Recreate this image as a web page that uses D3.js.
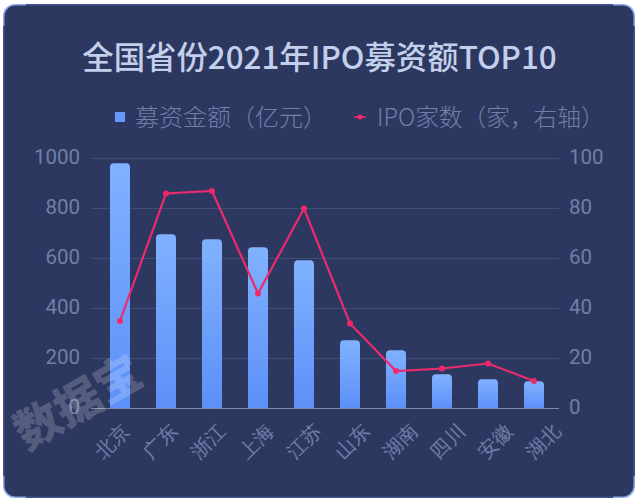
<!DOCTYPE html>
<html lang="zh">
<head>
    <meta charset="UTF-8">
    <title>全国省份2021年IPO募资额TOP10</title>
    <script src="https://d3js.org/d3.v7.min.js"></script>
    <style>
        html, body { margin: 0; padding: 0; background: #fff; overflow: hidden; }
        svg { display: block; font-family: "Noto Sans CJK SC", "Noto Sans", sans-serif; }
    </style>
</head>
<body>
    <svg width="638" height="500"></svg>
    <script>
        const provinces = ["北京", "广东", "浙江", "上海", "江苏", "山东", "湖南", "四川", "安徽", "湖北"];
        const amounts = [981, 697, 677, 645, 593, 273, 233, 137, 117, 109];
        const ipoCounts = [35, 86, 87, 46, 80, 34, 15, 16, 18, 11];
        const leftTicks = [0, 200, 400, 600, 800, 1000];
        const rightTicks = [0, 20, 40, 60, 80, 100];

        const svg = d3.select("svg");

        const defs = svg.append("defs");
        const grad = defs.append("linearGradient")
            .attr("id", "barFill").attr("x1", 0).attr("y1", 0).attr("x2", 0).attr("y2", 1);
        grad.append("stop").attr("offset", "0%").attr("stop-color", "#80b1ff");
        grad.append("stop").attr("offset", "100%").attr("stop-color", "#5c90f8");

        // panel
        svg.append("rect").attr("x", 3).attr("y", 4).attr("width", 632).attr("height", 494)
            .attr("rx", 12).attr("fill", "#8fa8e6");
        svg.append("rect").attr("x", 26).attr("y", 4).attr("width", 587).attr("height", 494)
            .attr("fill", "#3f5291");
        svg.append("rect").attr("x", 3).attr("y", 26).attr("width", 632).attr("height", 450)
            .attr("fill", "#3f5291");
        svg.append("rect").attr("x", 4.5).attr("y", 5.5).attr("width", 629).attr("height", 491)
            .attr("rx", 11).attr("fill", "#2d3861");

        const x = d3.scaleBand().domain(provinces).range([97, 557]).paddingInner(0.565).paddingOuter(0.2825);
        // the rotated labels are spaced a little wider than the bars in the picture
        const xLabels = d3.scalePoint().domain(provinces).range([120, 551]);
        const y = d3.scaleLinear().domain([0, 1000]).range([408.5, 158.5]);
        const y2 = d3.scaleLinear().domain([0, 100]).range([408.5, 158.5]);
        const cx = d => x(d) + x.bandwidth() / 2;

        // title
        svg.append("text").attr("x", 319.5).attr("y", 69).attr("text-anchor", "middle")
            .attr("font-size", 31.4).attr("font-weight", 500).attr("fill", "#c3d0eb")
            .text("全国省份2021年IPO募资额TOP10");

        // legend
        svg.append("rect").attr("x", 115).attr("y", 112).attr("width", 10).attr("height", 10).attr("fill", "#6498fb");
        svg.append("text").attr("x", 135).attr("y", 126).attr("font-size", 24).attr("font-weight", 300).attr("fill", "#727fa8")
            .text("募资金额（亿元）");
        svg.append("line").attr("x1", 354).attr("x2", 366).attr("y1", 117).attr("y2", 117)
            .attr("stroke", "#ef2a6b").attr("stroke-width", 1.5);
        svg.append("circle").attr("cx", 360).attr("cy", 117).attr("r", 2.5).attr("fill", "#ef2a6b");
        svg.append("text").attr("x", 377).attr("y", 126).attr("font-size", 23.7).attr("font-weight", 300).attr("fill", "#727fa8")
            .text("IPO家数（家，右轴）");

        // gridlines
        svg.append("g").selectAll("line").data(leftTicks.slice(1)).enter().append("line")
            .attr("x1", 91).attr("x2", 559)
            .attr("y1", d => y(d)).attr("y2", d => y(d))
            .attr("stroke", "#414d78").attr("stroke-width", 1);

        // bars
        const r = 4;
        svg.append("g").selectAll("path").data(provinces).enter().append("path")
            .attr("fill", "url(#barFill)")
            .attr("d", (d, i) => {
                const x0 = x(d), w = x.bandwidth(), top = y(amounts[i]), base = y(0);
                return `M${x0},${base}V${top + r}Q${x0},${top} ${x0 + r},${top}H${x0 + w - r}Q${x0 + w},${top} ${x0 + w},${top + r}V${base}Z`;
            });

        // baseline
        svg.append("line").attr("x1", 91).attr("x2", 559).attr("y1", y(0)).attr("y2", y(0))
            .attr("stroke", "#7d88ac").attr("stroke-width", 1);

        // axes
        const leftAxis = svg.append("g").attr("transform", "translate(80,0)")
            .call(d3.axisLeft(y).tickValues(leftTicks).tickFormat(d3.format("d")).tickSize(0).tickPadding(0));
        const rightAxis = svg.append("g").attr("transform", "translate(569,0)")
            .call(d3.axisRight(y2).tickValues(rightTicks).tickSize(0).tickPadding(0));
        [leftAxis, rightAxis].forEach(a => {
            a.select(".domain").remove();
            a.selectAll("text").attr("font-size", 20.5).attr("fill", "#727fa8").attr("dy", "0.24em")
                .attr("font-family", "Roboto, 'Noto Sans', sans-serif");
        });

        const bottomAxis = svg.append("g").attr("transform", "translate(0,408.5)")
            .call(d3.axisBottom(xLabels).tickSize(0).tickPadding(0));
        bottomAxis.select(".domain").remove();
        bottomAxis.selectAll("text")
            .attr("font-size", 19.5).attr("font-weight", 300).attr("fill", "#727fa8")
            .attr("text-anchor", "end").attr("dy", null).attr("y", 0)
            .attr("transform", "translate(11,23) rotate(-45)");

        // line series
        const line = d3.line().x(d => cx(d)).y((d, i) => y2(ipoCounts[i]));
        svg.append("path").attr("d", line(provinces)).attr("fill", "none")
            .attr("stroke", "#ec2a6c").attr("stroke-width", 2.2);
        svg.append("g").selectAll("circle").data(provinces).enter().append("circle")
            .attr("cx", d => cx(d)).attr("cy", (d, i) => y2(ipoCounts[i])).attr("r", 3)
            .attr("fill", "#ef2a6b");

        // watermark
        svg.append("text").attr("transform", "translate(26.5,451) rotate(-30)")
            .attr("font-size", 46).attr("font-weight", 900).attr("fill", "#fff").attr("fill-opacity", 0.2)
            .text("数据宝");
    </script>
</body>
</html>
